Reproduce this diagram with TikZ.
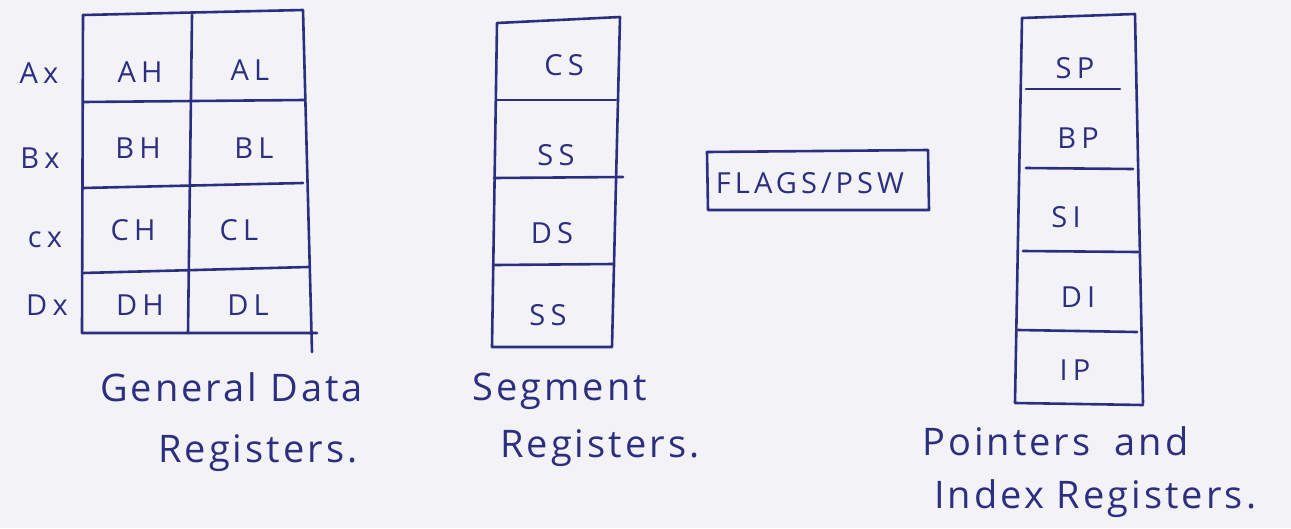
\documentclass[tikz,border=0pt]{standalone}
\usepackage{fontspec}
\setmainfont{Open Sans}
\newfontfamily\cellfont{Open Sans}[LetterSpace=18]
\newfontfamily\capfont{Open Sans}[LetterSpace=8]
\newfontfamily\flagfont{Open Sans}[LetterSpace=14]
\definecolor{ink}{HTML}{2C2F80}
\definecolor{paper}{HTML}{F3F3F7}
\begin{document}
\begin{tikzpicture}[x=1pt,y=-1pt,
  pen/.style={draw=ink,line width=2.6pt,line cap=round,line join=round},
  cell/.style={text=ink,inner sep=0pt,anchor=base,font=\cellfont\fontsize{29}{31}\selectfont},
  rowlbl/.style={text=ink,inner sep=0pt,anchor=base,font=\cellfont\fontsize{29}{31}\selectfont},
  captxt/.style={text=ink,inner sep=0pt,anchor=base west,font=\capfont\fontsize{38}{40}\selectfont}]
\fill[paper] (0,0) rectangle (1291,528);
\useasboundingbox (0,0) rectangle (1291,528);

% general data register grid
\draw[pen] (83,15) -- (303,10) -- (312,352);
\draw[pen] (83,15) -- (82,333) -- (317,333);
\draw[pen] (192,15) -- (188,333);
\draw[pen] (83,102) -- (304,100);
\draw[pen] (83,188) -- (303,183);
\draw[pen] (83,273) -- (308,267);

\node[rowlbl] (ax) at (39,83) {Ax};
\node[rowlbl] (bx) at (40,168) {Bx};
\node[rowlbl] (cx) at (45,247) {cx};
\node[rowlbl] (dx) at (47,315) {Dx};

\node[cell] (ah) at (140,82) {AH};
\node[cell] (al) at (250,80) {AL};
\node[cell] (bh) at (138,158) {BH};
\node[cell] (bl) at (254,158) {BL};
\node[cell] (ch) at (133,240) {CH};
\node[cell] (cl) at (239,240) {CL};
\node[cell] (dh) at (140,315) {DH};
\node[cell] (dl) at (248,315) {DL};

% segment register column
\draw[pen] (497,23) -- (620,17) -- (612,347) -- (492,347) -- cycle;
\draw[pen] (497,100) -- (616,100);
\draw[pen] (494,178) -- (623,177);
\draw[pen] (495,265) -- (613,264);

\node[cell] (cs) at (564,75) {CS};
\node[cell] (ss1) at (556,165) {SS};
\node[cell] (ds) at (552,243) {DS};
\node[cell] (ss2) at (548,325) {SS};

% flags register
\draw[pen] (707,152) -- (928,150) -- (929,210) -- (708,210) -- cycle;
\node[cell,font=\flagfont\fontsize{29}{31}\selectfont] (flags) at (810,193) {FLAGS/PSW};

% pointer and index register column
\draw[pen] (1022,18) -- (1135,14) -- (1143,403);
\draw[pen] (1022,18) -- (1015,403) -- (1143,405);
\draw[pen] (1026,89) -- (1120,89);
\draw[pen] (1026,168) -- (1133,169);
\draw[pen] (1023,251) -- (1138,252);
\draw[pen] (1018,330) -- (1137,332);

\node[cell] (sp) at (1075,78) {SP};
\node[cell] (bp) at (1078,148) {BP};
\node[cell] (si) at (1066,227) {SI};
\node[cell] (di) at (1078,307) {DI};
\node[cell] (ip) at (1075,380) {IP};

% captions
\node[captxt] (gd1) at (100,401) {General Data};
\node[captxt] (gd2) at (158,462) {Registers.};
\node[captxt] (sg1) at (472,400) {Segment};
\node[captxt] (sg2) at (500,457) {Registers.};
\node[captxt] (pi1) at (922,455) {Pointers\hspace{24pt}and};
\node[captxt] (pi2) at (934,508) {Index Registers.};
\end{tikzpicture}
\end{document}
